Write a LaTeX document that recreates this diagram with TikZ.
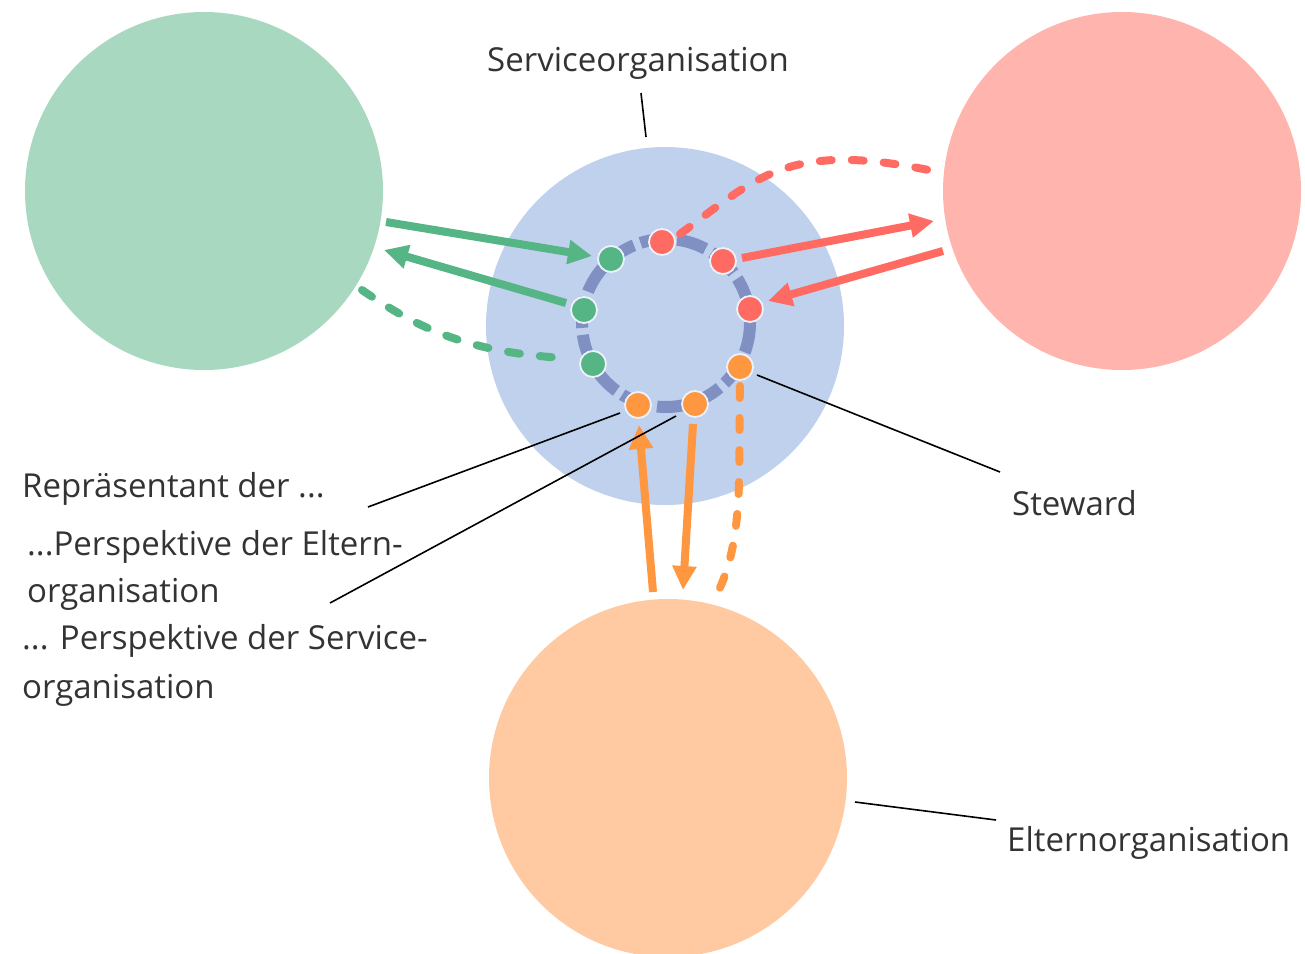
\documentclass[tikz,border=0pt]{standalone}
\usepackage{fontspec}
\setmainfont{Open Sans}
\usetikzlibrary{arrows.meta}
\definecolor{cgreen}{HTML}{A8D8C0}
\definecolor{cblue}{HTML}{C0D1EE}
\definecolor{cred}{HTML}{FFB4AE}
\definecolor{corange}{HTML}{FFCAA2}
\definecolor{dgreen}{HTML}{55B585}
\definecolor{dred}{HTML}{FF6B62}
\definecolor{dorange}{HTML}{FF9640}
\definecolor{ring}{HTML}{8090C2}
\tikzset{
  big/.style={circle, minimum size=358pt, inner sep=0pt},
  dot/.style={circle, minimum size=26pt, inner sep=0pt, draw=white!70!cblue, line width=1.8pt},
  arr/.style={line width=8pt, -{Triangle[length=24pt,width=23pt]}},
  dsh/.style={line width=8pt, line cap=round, dash pattern=on 12pt off 20pt},
  lbl/.style={font=\fontsize{33}{40}\selectfont, text=black!80, inner sep=0pt},
  thin/.style={line width=1.6pt, black},
}
\begin{document}
\begin{tikzpicture}[x=1pt,y=-1pt]
\useasboundingbox (0,0) rectangle (1305,953);
% big circles
\node[big, fill=cgreen] (G) at (204,191) {};
\node[big, fill=cblue] (B) at (665,326) {};
\node[big, fill=cred] (R) at (1122,191) {};
\node[big, fill=corange] (O) at (668,778) {};
% ring
\draw[ring, line width=12pt, dash pattern=on 30pt off 7pt] (666,323) circle (84);
% dashed connectors
\coordinate (gd1) at (362,290);
\coordinate (gd2) at (563,358);
\draw[dgreen, dsh] (gd1) .. controls (420,330) and (470,352) .. (gd2);
\coordinate (rd1) at (680,234);
\coordinate (rd2) at (938,172);
\draw[dred, dsh] (rd1) .. controls (760,175) and (790,140) .. (rd2);
\coordinate (od1) at (740,386);
\coordinate (od2) at (716,596);
\draw[dorange, dsh] (od1) .. controls (738,470) and (745,540) .. (od2);
% dots
\node[dot, fill=dgreen] (g1) at (611,259) {};
\node[dot, fill=dgreen] (g2) at (584,310) {};
\node[dot, fill=dgreen] (g3) at (593,364) {};
\node[dot, fill=dred] (r1) at (662,242) {};
\node[dot, fill=dred] (r2) at (723,261) {};
\node[dot, fill=dred] (r3) at (750,309) {};
\node[dot, fill=dorange] (o1) at (740,367) {};
\node[dot, fill=dorange] (o2) at (695,404) {};
\node[dot, fill=dorange] (o3) at (638,405) {};
% arrows
\coordinate (ga1) at (386,222);
\coordinate (ga2) at (592,256);
\draw[dgreen, arr] (ga1) -- (ga2);
\coordinate (ga3) at (566,303);
\coordinate (ga4) at (384,250);
\draw[dgreen, arr] (ga3) -- (ga4);
\coordinate (ra1) at (742,258);
\coordinate (ra2) at (934,221);
\draw[dred, arr] (ra1) -- (ra2);
\coordinate (ra3) at (943,251);
\coordinate (ra4) at (768,301);
\draw[dred, arr] (ra3) -- (ra4);
\coordinate (oa1) at (653,592);
\coordinate (oa2) at (639,425);
\draw[dorange, arr] (oa1) -- (oa2);
\coordinate (oa3) at (693,424);
\coordinate (oa4) at (683,590);
\draw[dorange, arr] (oa3) -- (oa4);
% labels
\node[lbl, anchor=base] (ls) at (638,71) {Serviceorganisation};
\node[lbl, anchor=base west] (lst) at (1012,515) {Steward};
\node[lbl, anchor=base west] (lel) at (1007,851) {Elternorganisation};
\node[lbl, anchor=base west] (lr) at (22,497) {Repräsentant der ...};
\node[lbl, anchor=base west] (lp1) at (27,555) {...Perspektive der Eltern-};
\node[lbl, anchor=base west] (lp1b) at (27,602) {organisation};
\node[lbl, anchor=base west] (lp2) at (22,649) {... Perspektive der Service-};
\node[lbl, anchor=base west] (lp2b) at (22,698) {organisation};
% leader lines
\coordinate (c1) at (641,93); \coordinate (c2) at (646,137);
\draw[thin] (c1) -- (c2);
\coordinate (c3) at (757,375); \coordinate (c4) at (1000,472);
\draw[thin] (c3) -- (c4);
\coordinate (c5) at (855,802); \coordinate (c6) at (996,820);
\draw[thin] (c5) -- (c6);
\coordinate (c7) at (368,507); \coordinate (c8) at (620,413);
\draw[thin] (c7) -- (c8);
\coordinate (c9) at (330,603); \coordinate (c10) at (676,416);
\draw[thin] (c9) -- (c10);
\end{tikzpicture}
\end{document}
